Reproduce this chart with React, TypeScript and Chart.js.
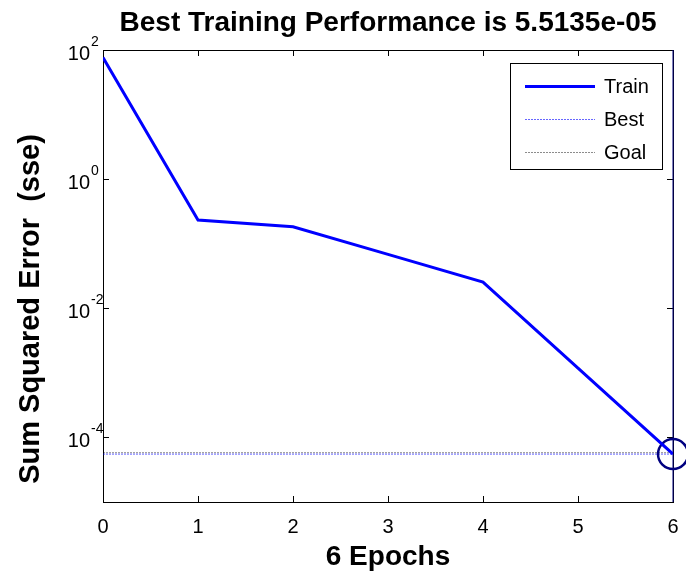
import React, { useEffect, useRef } from 'react';
import { Chart, registerables } from 'chart.js';

Chart.register(...registerables);

const TITLE = 'Best Training Performance is 5.5135e-05';
const X_LABEL = '6 Epochs';
const Y_LABEL = 'Sum Squared Error  (sse)';

const EPOCHS = [0, 1, 2, 3, 4, 5, 6];
const TRAIN = [76.5, 0.233, 0.183, 0.0683, 0.0255, 1.186e-3, 5.5135e-5];

const BEST_EPOCH = 6;
const BEST_PERF = 5.5135e-5;
const GOAL = 5.8e-5;

const X_MIN = 0;
const X_MAX = 6;
const Y_MIN = 1e-5;
const Y_MAX = 1e2;

const X_TICKS = [0, 1, 2, 3, 4, 5, 6];
const Y_TICKS = [1e2, 1, 1e-2, 1e-4];
const Y_TICK_EXPONENTS = ['2', '0', '-2', '-4'];

const LEGEND_LABELS = ['Train', 'Best', 'Goal'];

const FONT = '"Liberation Sans", Arial, Helvetica, sans-serif';

const framePlugin = {
  id: 'matlabFrame',
  beforeDatasetsDraw(chart: any) {
    const { ctx, chartArea } = chart;
    const { left, right, top, bottom } = chartArea;
    const xs = chart.scales.x;
    const ys = chart.scales.y;
    ctx.save();
    ctx.strokeStyle = '#000';
    ctx.lineWidth = 1;
    ctx.beginPath();
    ctx.rect(Math.round(left) + 0.5, Math.round(top) + 0.5, Math.round(right - left), Math.round(bottom - top));
    ctx.stroke();
    const tl = 6;
    ctx.beginPath();
    X_TICKS.forEach((v) => {
      const px = Math.round(xs.getPixelForValue(v)) + 0.5;
      ctx.moveTo(px, bottom);
      ctx.lineTo(px, bottom - tl);
      ctx.moveTo(px, top);
      ctx.lineTo(px, top + tl);
    });
    Y_TICKS.forEach((v) => {
      const py = Math.round(ys.getPixelForValue(v)) + 0.5;
      ctx.moveTo(left, py);
      ctx.lineTo(left + tl, py);
      ctx.moveTo(right, py);
      ctx.lineTo(right - tl, py);
    });
    ctx.stroke();
    ctx.restore();
  },
  afterDraw(chart: any) {
    const { ctx, chartArea } = chart;
    const { left, right } = chartArea;
    const ys = chart.scales.y;
    ctx.save();
    ctx.fillStyle = '#000';

    // y tick labels with superscripts
    Y_TICKS.forEach((v, i) => {
      const py = ys.getPixelForValue(v);
      ctx.font = `20px ${FONT}`;
      ctx.textAlign = 'right';
      ctx.textBaseline = 'alphabetic';
      ctx.fillText('10', left - 13, py + 10);
      ctx.font = `14px ${FONT}`;
      ctx.textAlign = 'left';
      ctx.fillText(Y_TICK_EXPONENTS[i], left - 12, py - 4);
    });

    // title
    ctx.font = `bold 28px ${FONT}`;
    ctx.textAlign = 'center';
    ctx.textBaseline = 'middle';
    ctx.fillText(TITLE, (left + right) / 2, 23);

    // x label
    ctx.fillText(X_LABEL, (left + right) / 2, 557);

    // y label
    ctx.font = `bold 29px ${FONT}`;
    ctx.save();
    ctx.translate(31, 309);
    ctx.rotate(-Math.PI / 2);
    ctx.fillText(Y_LABEL, 0, 0);
    ctx.restore();

    // legend
    const bx = 510, by = 63, bw = 152, bh = 106;
    ctx.fillStyle = '#fff';
    ctx.fillRect(bx, by, bw, bh);
    ctx.strokeStyle = '#000';
    ctx.lineWidth = 1;
    ctx.strokeRect(bx + 0.5, by + 0.5, bw, bh);
    const rows = [86, 119, 152];
    const styles = [
      { color: '#0000ff', width: 3, dash: [] as number[] },
      { color: 'rgba(0,0,255,0.6)', width: 1, dash: [2, 1] },
      { color: 'rgba(0,0,0,0.45)', width: 1, dash: [2, 1] },
    ];
    LEGEND_LABELS.forEach((lab, i) => {
      const y = rows[i];
      const s = styles[i];
      ctx.strokeStyle = s.color;
      ctx.lineWidth = s.width;
      ctx.setLineDash(s.dash);
      ctx.beginPath();
      ctx.moveTo(525, y + 0.5);
      ctx.lineTo(595, y + 0.5);
      ctx.stroke();
      ctx.setLineDash([]);
      ctx.fillStyle = '#000';
      ctx.font = `20px ${FONT}`;
      ctx.textAlign = 'left';
      ctx.textBaseline = 'middle';
      ctx.fillText(lab, 604, y + 1);
    });
    ctx.restore();
  },
};

export default function App() {
  const ref = useRef<HTMLCanvasElement>(null);

  useEffect(() => {
    const canvas = ref.current;
    if (!canvas) return;
    const chart = new Chart(canvas, {
      type: 'line',
      data: {
        datasets: [
          {
            label: 'Train',
            data: EPOCHS.map((x, i) => ({ x, y: TRAIN[i] })),
            borderColor: '#0000ff',
            borderWidth: 3,
            pointRadius: 0,
            fill: false,
            tension: 0,
          },
          {
            label: 'BestCircle',
            data: [{ x: BEST_EPOCH, y: BEST_PERF }],
            showLine: false,
            pointRadius: 15,
            pointBorderWidth: 2.5,
            pointBorderColor: '#000080',
            pointBackgroundColor: 'rgba(0,0,0,0)',
            clip: false,
          },
          {
            label: 'BestEpoch',
            data: [
              { x: BEST_EPOCH, y: Y_MIN },
              { x: BEST_EPOCH, y: Y_MAX },
            ],
            borderColor: '#000080',
            borderWidth: 1,
            pointRadius: 0,
            clip: false,
          },
          {
            label: 'Best',
            data: [
              { x: X_MIN, y: BEST_PERF },
              { x: X_MAX, y: BEST_PERF },
            ],
            borderColor: 'rgba(0,0,255,0.6)',
            borderWidth: 1,
            borderDash: [2, 1],
            pointRadius: 0,
          },
          {
            label: 'Goal',
            data: [
              { x: X_MIN, y: GOAL },
              { x: X_MAX, y: GOAL },
            ],
            borderColor: 'rgba(0,0,0,0.45)',
            borderWidth: 1,
            borderDash: [2, 1],
            pointRadius: 0,
          },
        ],
      },
      options: {
        animation: false,
        responsive: false,
        devicePixelRatio: 1,
        layout: { autoPadding: false, padding: { top: 50, right: 13, left: 0, bottom: 0 } },
        plugins: {
          legend: { display: false },
          title: { display: false },
          tooltip: { enabled: false },
        },
        scales: {
          x: {
            type: 'linear',
            min: X_MIN,
            max: X_MAX,
            afterFit: (s: any) => {
              s.height = 72;
              s.paddingLeft = 0;
              s.paddingRight = 0;
            },
            afterBuildTicks: (s: any) => {
              s.ticks = X_TICKS.map((v) => ({ value: v }));
            },
            grid: { display: false },
            border: { display: true, color: '#000', width: 1 },
            ticks: {
              color: '#000',
              font: { family: FONT, size: 20 },
              padding: 5,
              maxRotation: 0,
              autoSkip: false,
            },
          },
          y: {
            type: 'logarithmic',
            min: Y_MIN,
            max: Y_MAX,
            afterFit: (s: any) => {
              s.width = 103;
              s.paddingTop = 0;
              s.paddingBottom = 0;
            },
            grid: { display: false },
            border: { display: true, color: '#000', width: 1 },
            ticks: { display: false },
          },
        },
      },
      plugins: [framePlugin],
    } as any);
    return () => chart.destroy();
  }, []);

  return (
    <div style={{ position: 'absolute', left: 0, top: 0, width: 686, height: 574, background: '#fff' }}>
      <canvas ref={ref} width={686} height={574} style={{ display: 'block', width: 686, height: 574 }} />
    </div>
  );
}
